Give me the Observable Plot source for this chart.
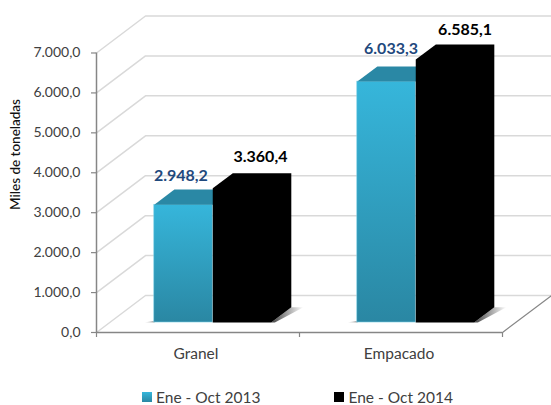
<!DOCTYPE html>
<html><head><meta charset="utf-8">
<script src="https://cdn.jsdelivr.net/npm/d3@7"></script>
<script src="https://cdn.jsdelivr.net/npm/@observablehq/plot@0.6"></script>
<style>
html,body{margin:0;padding:0;background:#fff;font-family:Lato,sans-serif}
#legend{display:flex;position:absolute;left:142px;top:387px;font-size:15.5px;color:#404040;line-height:20px}
#legend span.s{display:inline-block;width:10px;height:10px;margin-right:4px}
#legend div{display:flex;align-items:center}
</style></head><body>
<div id="chart"></div>
<div id="legend"></div>
<script>
const categories = ["Granel", "Empacado"];
const seriesNames = ["Ene - Oct 2013", "Ene - Oct 2014"];
const values2013 = [2948.2, 6033.3];
const values2014 = [3360.4, 6585.1];
const valueLabels2013 = ["2.948,2", "6.033,3"];
const valueLabels2014 = ["3.360,4", "6.585,1"];
const yTicks = [0, 1000, 2000, 3000, 4000, 5000, 6000, 7000];

// geometry of the oblique view, in scale units
const catPx = 203, valPx = 39.93;
const wallDx = 49 / catPx, wallDy = 37 / valPx * 1000;
const barFront = 0.27, barBack = 0.68, barStart = 0.2195, barWidth = 0.288;
const X = (c, d) => c + d * wallDx;
const Y = (v, d) => v + d * wallDy;
const xEnd = 2 + wallDx;

const gridFloor = yTicks.flatMap(v => [
  {k: v, x: X(0, 0), y: Y(v, 0)},
  {k: v, x: X(0, 1), y: Y(v, 1)},
  {k: v, x: xEnd, y: Y(v, 1)}
]);
const polys = [], fronts = [], shadowsR = [], shadowsL = [];
categories.forEach((c, i) => {
  [values2013[i], values2014[i]].forEach((v, s) => {
    const l = i + barStart + s * barWidth, r = l + barWidth;
    const id = `${i}-${s}`;
    const col = s === 0 ? "#2a88a5" : "#000";
    const pts = s === 0
      ? [[l, v, barFront], [l, v, barBack], [r, v, barBack], [r, v, barFront]]
      : [[l, 0, barFront], [l, v, barFront], [l, v, barBack], [r, v, barBack], [r, 0, barBack], [r, 0, barFront]];
    pts.forEach(([c2, v2, d]) => polys.push({id, col, x: X(c2, d), y: Y(v2, d)}));
    if (s === 0) fronts.push({x1: X(l, barFront), x2: X(r, barFront), y1: Y(0, barFront), y2: Y(v, barFront)});
    if (s === 1) {
      const ext = 0.06;
      [[r, barFront], [r, barBack], [r + ext, barBack], [r + ext * 0.3, barFront]].forEach(([c2, d]) =>
        shadowsR.push({id: i, x: X(c2, d), y: Y(0, d)}));
      const l0 = i + barStart;
      [[l0 - 0.05, barFront], [l0, barFront + 0.06], [l0, barFront]].forEach(([c2, d]) =>
        shadowsL.push({id: i, x: X(c2, d), y: Y(0, d)}));
    }
  });
});
const labels = categories.flatMap((c, i) => {
  const a = i + barStart, b = a + barWidth;
  return [
    {t: valueLabels2013[i], c: "#1f497d", x: X(a + barWidth / 2 + [-0.013, 0.022][i], barFront), y: Y(values2013[i], barBack) + [355, 430][i]},
    {t: valueLabels2014[i], c: "#000", x: X(b + barWidth / 2 + [-0.008, 0][i], barBack), y: Y(values2014[i], barBack) + [400, 375][i]}
  ];
});
const fmt = d3.formatLocale({decimal: ",", thousands: ".", grouping: [3], currency: ["", ""]}).format(",.1f");

const H = 378;
const defs = () => {
  const s = d3.create("svg:defs");
  const g = s.append("linearGradient").attr("id", "bar").attr("x1", 0).attr("y1", 0).attr("x2", 0).attr("y2", 1);
  g.append("stop").attr("offset", "0%").attr("stop-color", "#36b6db");
  g.append("stop").attr("offset", "100%").attr("stop-color", "#2a87a3");
  const h = s.append("linearGradient").attr("id", "shadeR").attr("x1", 0).attr("y1", 0).attr("x2", 1).attr("y2", 0);
  h.append("stop").attr("offset", "0%").attr("stop-color", "#444");
  h.append("stop").attr("offset", "100%").attr("stop-color", "#fff");
  const k = s.append("linearGradient").attr("id", "shadeL").attr("x1", 1).attr("y1", 0).attr("x2", 0).attr("y2", 0);
  k.append("stop").attr("offset", "0%").attr("stop-color", "#888");
  k.append("stop").attr("offset", "100%").attr("stop-color", "#fff");
  return s.node();
};
const plot = Plot.plot({
  width: 551, height: H,
  marginLeft: 96, marginRight: 0, marginTop: 0, marginBottom: H - 332,
  style: {fontFamily: "Lato, sans-serif", background: "#fff"},
  x: {domain: [0, xEnd], axis: null},
  y: {domain: [0, 332 / valPx * 1000], axis: null},
  marks: [
    defs,
    Plot.line(gridFloor, {x: "x", y: "y", z: "k", stroke: "#d9d9d9", strokeWidth: 1.5}),
    Plot.line([{x: 2, y: 0}, {x: xEnd, y: wallDy}], {x: "x", y: "y", stroke: "#868686", strokeWidth: 1.2}),
    Plot.line(shadowsR, {x: "x", y: "y", z: "id", fill: "url(#shadeR)", stroke: "none"}),
    Plot.line(shadowsL, {x: "x", y: "y", z: "id", fill: "url(#shadeL)", stroke: "none"}),
    Plot.rect(fronts, {x1: "x1", x2: "x2", y1: "y1", y2: "y2", fill: "url(#bar)", stroke: "#7fd0e6", strokeWidth: 0.6}),
    Plot.line(polys, {x: "x", y: "y", z: "id", fill: "col", stroke: "none"}),
    Plot.ruleX([0], {y1: 0, y2: 7000, stroke: "#868686", strokeWidth: 1.5}),
    Plot.ruleY([0], {x1: 0, x2: 2, stroke: "#868686", strokeWidth: 1.5}),
    Plot.axisY({ticks: yTicks, tickFormat: fmt, tickSize: 5, tickPadding: 11, stroke: "#868686", fontSize: 14, color: "#404040", label: null, strokeWidth: 1.2}),
    Plot.axisX({ticks: [0, 1, 2], tickFormat: () => "", tickSize: 5, stroke: "#868686", label: null, strokeWidth: 1.2}),
    Plot.axisX({ticks: [0.49, 1.49], tickFormat: d => categories[Math.floor(d)], tickSize: 0, tickPadding: 15, fontSize: 15.5, color: "#404040", label: null}),
    Plot.text(["Miles de toneladas"], {frameAnchor: "top-left", dx: -81, dy: 154, rotate: -90, textAnchor: "middle", lineAnchor: "middle", fontSize: 13.5, fontWeight: 500, fill: "#111"}),
    Plot.text(labels, {x: "x", y: "y", text: "t", fill: "c", fontSize: 16, fontWeight: 700})
  ]
});
document.getElementById("chart").appendChild(plot);
document.getElementById("legend").innerHTML = seriesNames.map((n, i) =>
  `<div style="margin-right:${i ? 0 : 74}px"><span class="s" style="background:${i ? "#000" : "linear-gradient(#36b6db,#2a87a3)"}"></span>${n}</div>`).join("");
</script>
</body></html>
